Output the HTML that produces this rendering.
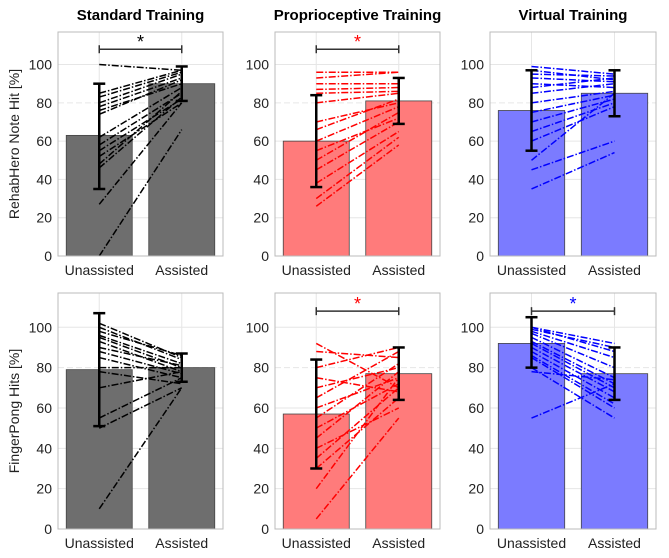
<!DOCTYPE html>
<html><head><meta charset="utf-8">
<style>
body{margin:0;background:#fff;}
svg{display:block;font-family:"Liberation Sans",Arial,sans-serif;}
</style></head>
<body>
<svg id="fig" width="669" height="558" viewBox="0 0 669 558"></svg>
<script>
const categories = ["Unassisted","Assisted"];
const yTicks = [0,20,40,60,80,100];
const colTitles = ["Standard Training","Proprioceptive Training","Virtual Training"];
const rowLabels = ["RehabHero Note Hit [%]","FingerPong Hits [%]"];
const barMeans = [[63,90],[60,81],[76,85],[79,80],[57,77],[92,77]];
const errLow = [[35,81],[36,69],[55,73],[51,73],[30,64],[80,64]];
const errHigh = [[90,99],[84,93],[97,97],[107,87],[84,90],[105,90]];
const significant = [true,true,false,false,true,true];
const subjUnassisted = [
 [100,85,83,80,78,76,74,62,58,55,52,48,46,27,0],
 [96,93,90,87,85,80,70,66,60,55,50,45,38,30,26],
 [99,97,95,93,90,88,85,80,75,70,65,60,50,45,35],
 [102,100,98,96,95,93,90,88,85,80,78,70,55,50,10],
 [92,88,80,75,70,65,60,55,50,45,40,35,30,20,5],
 [100,100,99,98,97,95,93,92,90,88,86,85,80,78,55]];
const subjAssisted = [
 [97,97,96,95,93,90,92,88,85,82,80,86,83,80,66],
 [96,96,90,88,86,85,80,82,78,72,75,70,65,62,58],
 [95,92,94,91,88,93,90,86,84,82,80,78,85,60,54],
 [85,84,86,82,80,78,81,77,75,80,72,78,75,70,70],
 [70,85,90,68,80,88,75,82,72,78,60,70,65,75,55],
 [92,88,90,85,80,75,72,70,68,65,62,60,55,74,72]];

const NS="http://www.w3.org/2000/svg";
const svg=document.getElementById('fig');
function mk(tag,attrs,parent){const e=document.createElementNS(NS,tag);for(const k in attrs)e.setAttribute(k,attrs[k]);(parent||svg).appendChild(e);return e;}
const colX=[[58,223],[275,440],[490,656]];
const rowY=[[32,256],[293,529]];
const fills=["#6e6e6e","#ff7b7b","#7b7bff"];
const lineCols=["#000","#f00","#00f"];
const starCols=["#000","#f00","#00f"];
const YMAX=117;

colTitles.forEach((t,c)=>{
 const e=mk('text',{x:(colX[c][0]+colX[c][1])/2,y:20,'text-anchor':'middle','font-size':15,'font-weight':'bold'});
 e.textContent=t;
 
 
});
rowLabels.forEach((t,r)=>{
 const cy=(rowY[r][0]+rowY[r][1])/2;
 const e=mk('text',{x:0,y:0,transform:`translate(19,${cy}) rotate(-90)`,'text-anchor':'middle','font-size':14,fill:'#222'});
 e.textContent=t;
 
 
});

for(let p=0;p<6;p++){
 const r=Math.floor(p/3),c=p%3;
 const [x0,x1]=colX[c],[yt,yb]=rowY[r];
 const g=mk('g',{});
 
 
 const xs=v=>x0+(v-0.5)*(x1-x0)/2;
 const ys=v=>yb-v*(yb-yt)/YMAX;
 mk('rect',{x:x0,y:yt,width:x1-x0,height:yb-yt,fill:'#fff'},g);
 yTicks.forEach(t=>{
  if(t>0) mk('line',{x1:x0,x2:x1,y1:ys(t),y2:ys(t),stroke:'#e6e6e6','stroke-width':1,'stroke-dasharray':t==80?'6,3':''},g);
  const tl=mk('text',{x:x0-6,y:ys(t)+5,'text-anchor':'end','font-size':14,fill:'#222'},g);
  tl.textContent=t;
  
  
 });
 [1,2].forEach(k=>mk('line',{x1:xs(k),x2:xs(k),y1:yt,y2:yb,stroke:'#e6e6e6'},g));
 barMeans[p].forEach((v,i)=>{
  const b=mk('rect',{x:xs(i+1)-0.4*(x1-x0)/2,y:ys(v),width:0.8*(x1-x0)/2,height:ys(0)-ys(v),fill:fills[c],stroke:'#444','stroke-width':0.8},g);
  
  
 });
 subjUnassisted[p].forEach((u,i)=>{
  const l=mk('line',{x1:xs(1),y1:ys(u),x2:xs(2),y2:ys(subjAssisted[p][i]),stroke:lineCols[c],'stroke-width':1.5,'stroke-dasharray':'7,2,1.5,2'},g);
  
  
 });
 [0,1].forEach(i=>{
  const x=xs(i+1);
  const eg=mk('g',{stroke:'#000','stroke-width':2.5},g);
  
  
  mk('line',{x1:x,x2:x,y1:ys(errLow[p][i]),y2:ys(errHigh[p][i])},eg);
  mk('line',{x1:x-6,x2:x+6,y1:ys(errLow[p][i]),y2:ys(errLow[p][i])},eg);
  mk('line',{x1:x-6,x2:x+6,y1:ys(errHigh[p][i]),y2:ys(errHigh[p][i])},eg);
 });
 if(significant[p]){
  const sg=mk('g',{},g);
  
  
  const y=ys(108);
  mk('line',{x1:xs(1),x2:xs(2),y1:y,y2:y,stroke:'#333','stroke-width':1.5},sg);
  mk('line',{x1:xs(1),x2:xs(1),y1:y-4,y2:y+4,stroke:'#333','stroke-width':1.5},sg);
  mk('line',{x1:xs(2),x2:xs(2),y1:y-4,y2:y+4,stroke:'#333','stroke-width':1.5},sg);
  const st=mk('text',{x:(xs(1)+xs(2))/2,y:y-1,'text-anchor':'middle','font-size':18,fill:starCols[c]},sg);
  st.textContent='*';
 }
 mk('rect',{x:x0,y:yt,width:x1-x0,height:yb-yt,fill:'none',stroke:'#bbb','stroke-width':1},g);
 categories.forEach((t,i)=>{
  const e=mk('text',{x:xs(i+1),y:yb+19,'text-anchor':'middle','font-size':14,fill:'#222'},g);
  e.textContent=t;
  
  
 });
}
</script>
</body></html>
